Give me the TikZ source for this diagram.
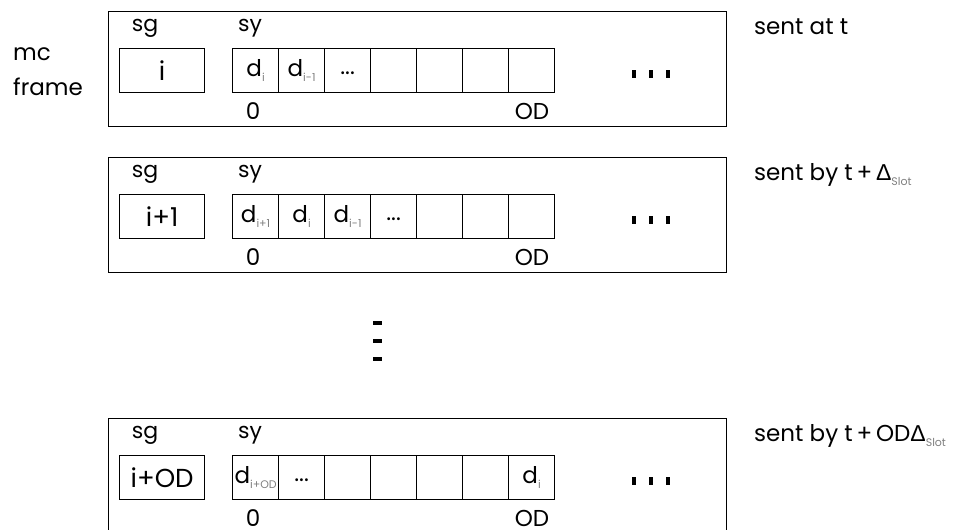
\documentclass[tikz,border=0pt]{standalone}
\usepackage{fontspec}
\setmainfont{Poppins}
\newfontfamily\symfont{Liberation Sans}

% small grey subscript used inside the slot cells and labels
\newcommand\lowsub[1]{\raisebox{-5pt}{\color{gray}\fontsize{11}{11}\selectfont #1}}
\newcommand\dval[1]{d\lowsub{#1}}
% ellipsis in a slot, sitting a little below the cell middle
\newcommand\slotdots{\raisebox{-4pt}[0pt][0pt]{...}}

\tikzset{
  x=1pt, y=-1pt,
  lbl/.style={inner sep=0pt, font=\fontsize{22}{24}\selectfont},
  side/.style={inner sep=0pt, font=\fontsize{23}{24}\selectfont},
  idx/.style={inner sep=0pt, font=\fontsize{23}{24}\selectfont},
  framebox/.style={draw, line width=1.2pt, minimum width=618pt, minimum height=115pt,
    inner sep=0pt, anchor=north west},
  sgbox/.style={draw, line width=1.2pt, minimum width=85pt, minimum height=44pt,
    inner sep=0pt, anchor=north west, font=\fontsize{26}{26}\selectfont},
  cellbox/.style={draw, line width=1.2pt, minimum width=46pt, minimum height=44pt,
    inner sep=0pt, anchor=north west, font=\fontsize{23}{23}\selectfont},
  dotmark/.style={fill=black, inner sep=0pt, minimum width=4pt, minimum height=8pt},
  vdotmark/.style={fill=black, inner sep=0pt, minimum width=9pt, minimum height=4pt},
}

% one multicast frame: #1 top edge, #2 name prefix, #3 sg entry, #4-#9 first six slots,
% the seventh slot is passed through \lastslot
\newcommand\mcrow[9]{%
  \begin{scope}[shift={(0,#1)}]
    \node[framebox] (#2-frame) at (108,0) {};
    \node[lbl, anchor=base] (#2-sg) at (145,20) {sg};
    \node[lbl, anchor=base] (#2-sy) at (250,20) {sy};
    \node[sgbox] (#2-id) at (119,37) {#3};
    \node[cellbox] (#2-c1) at (232,37) {#4};
    \node[cellbox] (#2-c2) at (278,37) {#5};
    \node[cellbox] (#2-c3) at (324,37) {#6};
    \node[cellbox] (#2-c4) at (370,37) {#7};
    \node[cellbox] (#2-c5) at (416,37) {#8};
    \node[cellbox] (#2-c6) at (462,37) {#9};
    \node[cellbox] (#2-c7) at (508,37) {\lastslot};
    \node[idx, anchor=base] (#2-zero) at (253,108) {0};
    \node[idx, anchor=base] (#2-od) at (532,108) {OD};
    \node[dotmark] (#2-m1) at (634,63) {};
    \node[dotmark] (#2-m2) at (651,63) {};
    \node[dotmark] (#2-m3) at (668,63) {};
  \end{scope}}

\begin{document}
\begin{tikzpicture}
  \useasboundingbox (0,0) rectangle (953,530);

  \node[side, anchor=base west] (mc) at (13,60) {mc};
  \node[side, anchor=base west] (fr) at (13,95) {frame};

  \def\lastslot{}
  \mcrow{11}{fa}{i}{\dval{i}}{\dval{i-1}}{\slotdots}{}{}{}
  \node[side, anchor=base west] (ta) at (754,34) {sent at t};

  \mcrow{157}{fb}{i+1}{\dval{i+1}}{\dval{i}}{\dval{i-1}}{\slotdots}{}{}
  \node[side, anchor=base west] (tb) at (754,180) {sent by t\,+\,{\symfont Δ}\lowsub{Slot}};

  \node[vdotmark] (v1) at (377,323) {};
  \node[vdotmark] (v2) at (377,341) {};
  \node[vdotmark] (v3) at (377,359) {};

  \def\lastslot{\dval{i}}
  \mcrow{418}{fc}{i+OD}{\dval{i+OD}}{\slotdots}{}{}{}{}
  \node[side, anchor=base west] (tc) at (754,441) {sent by t\,+\,OD{\symfont Δ}\lowsub{Slot}};
\end{tikzpicture}
\end{document}
